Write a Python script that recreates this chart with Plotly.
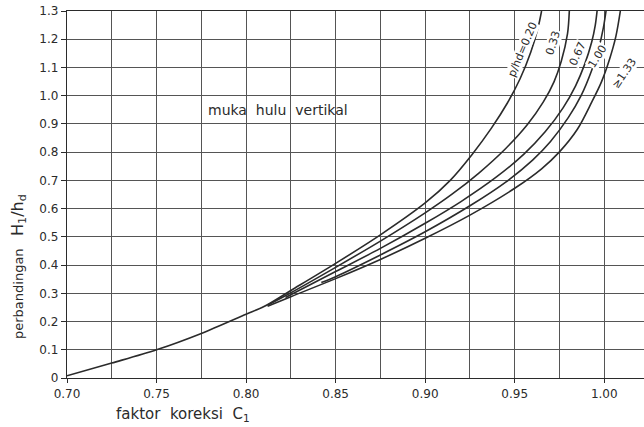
import plotly.graph_objects as go

# ---- data ----
trunk_c = [0.700, 0.725, 0.750, 0.775, 0.800, 0.810]
trunk_h = [0.008, 0.053, 0.100, 0.158, 0.226, 0.253]

c_020 = [0.810, 0.825, 0.850, 0.875, 0.900, 0.914, 0.926, 0.937, 0.946, 0.953, 0.959, 0.963, 0.965]
h_020 = [0.253, 0.310, 0.406, 0.507, 0.620, 0.700, 0.790, 0.885, 0.975, 1.060, 1.155, 1.240, 1.300]

c_033 = [0.812, 0.825, 0.850, 0.875, 0.900, 0.915, 0.930, 0.945, 0.957, 0.966, 0.972, 0.976, 0.9795, 0.9805]
h_033 = [0.258, 0.302, 0.392, 0.485, 0.585, 0.651, 0.726, 0.813, 0.897, 0.978, 1.050, 1.122, 1.220, 1.300]

c_067 = [0.822, 0.850, 0.875, 0.900, 0.920, 0.940, 0.955, 0.967, 0.977, 0.984, 0.989, 0.993, 0.995, 0.996]
h_067 = [0.285, 0.377, 0.459, 0.548, 0.625, 0.713, 0.792, 0.872, 0.957, 1.035, 1.110, 1.190, 1.250, 1.300]

c_100 = [0.842, 0.850, 0.875, 0.900, 0.925, 0.945, 0.960, 0.970, 0.980, 0.987, 0.993, 0.997, 0.9995, 1.001]
h_100 = [0.338, 0.359, 0.436, 0.518, 0.610, 0.694, 0.772, 0.838, 0.923, 0.999, 1.090, 1.170, 1.240, 1.300]

c_133 = [0.812, 0.825, 0.850, 0.875, 0.900, 0.925, 0.950, 0.965, 0.975, 0.985, 0.993, 0.9985, 1.003, 1.0065, 1.009]
h_133 = [0.254, 0.288, 0.352, 0.420, 0.495, 0.577, 0.672, 0.741, 0.801, 0.881, 0.977, 1.050, 1.130, 1.210, 1.300]

curve_labels = ["p/hd=0.20", "0.33", "0.67", "1.00", "≥1.33"]
label_c = [0.9546, 0.9717, 0.9852, 0.9962, 1.0110]
label_h = [1.162, 1.187, 1.150, 1.140, 1.080]
label_angle = [-67, -73, -65, -58, -56]

x_tick_vals = [0.70, 0.75, 0.80, 0.85, 0.90, 0.95, 1.00]
x_tick_text = ["0.70", "0.75", "0.80", "0.85", "0.90", "0.95", "1.00"]
y_tick_vals = [0.0, 0.1, 0.2, 0.3, 0.4, 0.5, 0.6, 0.7, 0.8, 0.9, 1.0, 1.1, 1.2, 1.3]
y_tick_text = ["0", "0.1", "0.2", "0.3", "0.4", "0.5", "0.6", "0.7", "0.8", "0.9", "1.0", "1.1", "1.2", "1.3"]

FONT = "DejaVu Sans"
INK = "#2b2b2b"
GRID = "#555555"

fig = go.Figure()

line_style = dict(color=INK, width=1.6, shape="spline", smoothing=0.9)
fig.add_trace(go.Scatter(x=trunk_c + c_020[1:], y=trunk_h + h_020[1:], mode="lines",
                         line=line_style, showlegend=False, hoverinfo="skip"))
for cc, hh in [(c_033, h_033), (c_067, h_067), (c_100, h_100), (c_133, h_133)]:
    fig.add_trace(go.Scatter(x=cc, y=hh, mode="lines", line=line_style,
                             showlegend=False, hoverinfo="skip"))

# white box behind "muka hulu vertikal"
fig.add_shape(type="rect", xref="x", yref="y", x0=0.7508, x1=0.8992, y0=0.903, y1=0.997,
              fillcolor="white", line=dict(width=0), layer="below")

fig.add_annotation(x=0.8179, y=0.949, xref="x", yref="y", text="muka  hulu  vertikal",
                   xanchor="center", yanchor="middle",
                   showarrow=False, font=dict(family=FONT, size=14, color=INK))

for t, cx, hy, ang in zip(curve_labels, label_c, label_h, label_angle):
    fig.add_annotation(x=cx, y=hy, xref="x", yref="y", text=t, textangle=ang,
                       xanchor="center", yanchor="middle",
                       showarrow=False, bgcolor="white", borderpad=0,
                       font=dict(family=FONT, size=11, color=INK))

# axis titles
fig.add_annotation(x=0.2015, y=-0.10, xref="paper", yref="paper",
                   xanchor="center", yanchor="middle",
                   text="faktor  koreksi  C<sub>1</sub>", showarrow=False,
                   font=dict(family=FONT, size=15, color=INK))
fig.add_annotation(x=-0.085, y=0.305, xref="paper", yref="paper", textangle=-90,
                   xanchor="center", yanchor="middle",
                   text="perbandingan   <span style='font-size:16px'>H<sub>1</sub>/h<sub>d</sub></span>",
                   showarrow=False, font=dict(family=FONT, size=13, color=INK))

fig.update_xaxes(range=[0.70, 1.0222], tickvals=x_tick_vals, ticktext=x_tick_text,
                 showgrid=True, gridcolor=GRID, gridwidth=1.2,
                 minor=dict(tick0=0.70, dtick=0.025, showgrid=True, gridcolor=GRID, gridwidth=1.2),
                 showline=True, linecolor=INK, linewidth=1.3, mirror=True,
                 ticks="outside", ticklen=4, tickcolor=INK, zeroline=False,
                 tickfont=dict(family=FONT, size=12, color=INK))
fig.update_yaxes(range=[0, 1.3], tickvals=y_tick_vals, ticktext=y_tick_text,
                 showgrid=True, gridcolor=GRID, gridwidth=1.2,
                 showline=True, linecolor=INK, linewidth=1.3,
                 ticks="outside", ticklen=5, tickcolor=INK, zeroline=False,
                 tickfont=dict(family=FONT, size=12, color=INK))

fig.update_layout(width=644, height=427, margin=dict(l=67, r=0, t=11, b=49),
                  paper_bgcolor="white", plot_bgcolor="white")

fig.write_html("out.html")
